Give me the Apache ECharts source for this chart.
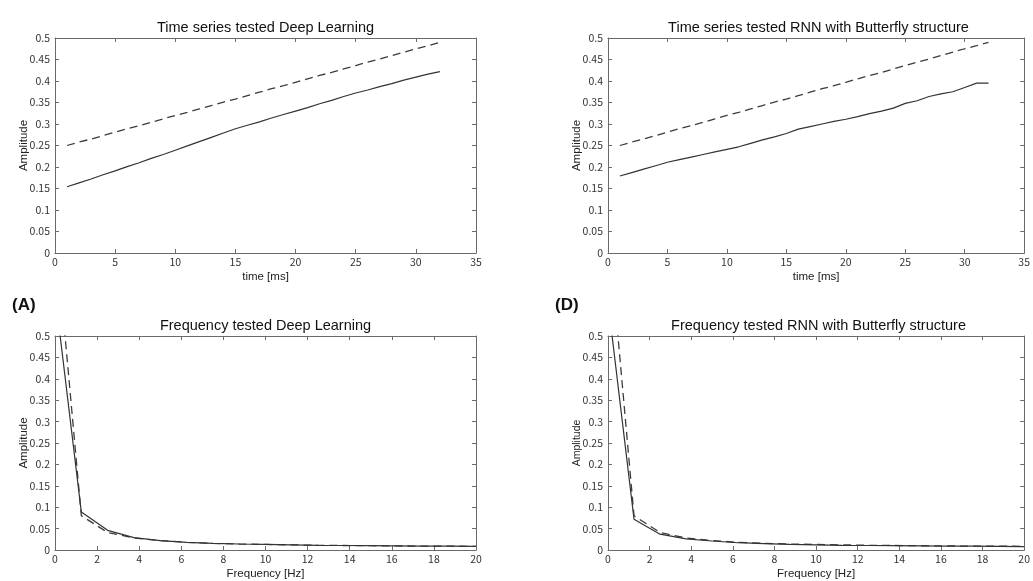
<!DOCTYPE html>
<html>
<head>
<meta charset="utf-8">
<script src="https://cdn.jsdelivr.net/npm/echarts@6/dist/echarts.min.js"></script>
<style>html,body{margin:0;padding:0;background:#fff}#c{width:1033px;height:581px}</style>
</head>
<body>
<div id="c"></div>
<script>
// ---- data ----
const timeMs = [1,2,3,4,5,6,7,8,9,10,11,12,13,14,15,16,17,18,19,20,21,22,23,24,25,26,27,28,29,30,31,32];
const timeTarget = [0.250,0.258,0.265,0.273,0.281,0.289,0.296,0.304,0.312,0.320,0.327,0.335,0.343,0.351,0.358,0.366,0.374,0.382,0.389,0.397,0.405,0.413,0.420,0.428,0.436,0.444,0.451,0.459,0.467,0.475,0.482,0.490];
const timeDeepLearning = [0.154,0.163,0.172,0.182,0.191,0.201,0.210,0.220,0.229,0.239,0.249,0.259,0.269,0.279,0.289,0.297,0.305,0.314,0.322,0.330,0.338,0.347,0.355,0.364,0.372,0.379,0.387,0.394,0.402,0.409,0.416,0.422];
const timeButterfly = [0.179,0.187,0.195,0.203,0.211,0.217,0.223,0.229,0.235,0.241,0.247,0.255,0.263,0.270,0.278,0.288,0.294,0.300,0.306,0.311,0.317,0.324,0.330,0.337,0.348,0.354,0.364,0.370,0.375,0.385,0.395,0.395];
const freqHz = [0,1.25,2.5,3.75,5,6.25,7.5,8.75,10,11.25,12.5,13.75,15,16.25,17.5,18.75,20];
const freqTarget = [0.76,0.080,0.041,0.028,0.022,0.018,0.0155,0.014,0.013,0.012,0.011,0.0105,0.010,0.0095,0.009,0.009,0.0085];
const freqDeepLearning = [0.60,0.089,0.046,0.029,0.022,0.018,0.0155,0.014,0.013,0.012,0.011,0.0105,0.010,0.0095,0.009,0.009,0.0085];
const freqButterfly = [0.58,0.072,0.037,0.026,0.021,0.017,0.015,0.013,0.012,0.011,0.0105,0.010,0.0095,0.009,0.009,0.0085,0.008];
const titles = ['Time series tested Deep Learning','Time series tested RNN with Butterfly structure','Frequency tested Deep Learning','Frequency tested RNN with Butterfly structure'];
const xNames = ['time [ms]','time [ms]','Frequency [Hz]','Frequency [Hz]'];
const panelLabels = ['(A)','(D)'];

// ---- layout ----
const grids = [
  {left:55, top:38, width:421, height:215},
  {left:608, top:38, width:421, height:215},
  {left:55, top:336, width:421, height:215},
  {left:608, top:336, width:421, height:215}
];
const xRanges = [{min:0,max:35,interval:5},{min:0,max:35,interval:5},{min:0,max:20,interval:2},{min:0,max:20,interval:2}];
const FONT = '"Liberation Sans", Arial, sans-serif';
const TICKFONT = '"Noto Sans CJK JP", "Liberation Sans", sans-serif';
const AX = '#6a6a6a';

const xAxis = [], yAxis = [], title = [], series = [];
grids.forEach((g, i) => {
  const r = xRanges[i];
  xAxis.push({
    gridIndex:i, type:'value', position:'bottom', min:r.min, max:r.max, interval:r.interval,
    name:xNames[i], nameLocation:'middle', nameGap:18, nameMoveOverlap:false,
    nameTextStyle:{color:'#222', fontSize:11.5, fontFamily:FONT},
    axisLine:{show:true, onZero:false, lineStyle:{color:AX, width:1}},
    axisTick:{show:true, inside:true, length:4, lineStyle:{color:AX}},
    axisLabel:{color:'#333', fontSize:10.5, fontFamily:TICKFONT, margin:4},
    splitLine:{show:false}
  });
  xAxis.push({
    gridIndex:i, type:'value', position:'top', min:r.min, max:r.max, interval:r.interval,
    axisLine:{show:true, onZero:false, lineStyle:{color:AX, width:1}},
    axisTick:{show:true, inside:true, length:4, lineStyle:{color:AX}},
    axisLabel:{show:false}, splitLine:{show:false}
  });
  yAxis.push({
    gridIndex:i, type:'value', position:'left', min:0, max:0.5, interval:0.05,
    name:'Amplitude', nameLocation:'middle', nameGap: (i % 2 === 0) ? 25 : 25.5, nameRotate:90, nameMoveOverlap:false,
    nameTextStyle:{color:'#222', fontSize: i===3 ? 10.5 : 11.5, fontFamily:FONT},
    axisLine:{show:true, onZero:false, lineStyle:{color:AX, width:1}},
    axisTick:{show:true, inside:true, length:4, lineStyle:{color:AX}},
    axisLabel:{color:'#333', fontSize:10.5, fontFamily:TICKFONT, margin:5,
      formatter: v => String(+v.toFixed(2))},
    splitLine:{show:false}
  });
  yAxis.push({
    gridIndex:i, type:'value', position:'right', min:0, max:0.5, interval:0.05,
    axisLine:{show:true, onZero:false, lineStyle:{color:AX, width:1}},
    axisTick:{show:true, inside:true, length:4, lineStyle:{color:AX}},
    axisLabel:{show:false}, splitLine:{show:false}
  });
  title.push({
    text:titles[i], left:g.left + g.width/2, top:g.top - 18, textAlign:'center', padding:0,
    textStyle:{color:'#111', fontSize:14.5, fontWeight:'normal', fontFamily:FONT}
  });
});

const pairs = (xs, ys) => xs.map((x, k) => [x, ys[k]]);
const lineSeries = (i, xs, ys, dashed) => ({
  type:'line', xAxisIndex:2*i, yAxisIndex:2*i, data:pairs(xs, ys),
  showSymbol:false, symbol:'none', clip:true, animation:false,
  lineStyle:{color: dashed ? '#3c3c3c' : '#333', width: dashed ? 1.3 : 1.2, type: dashed ? [8,5] : 'solid'}
});
series.push(lineSeries(0, timeMs, timeTarget, true));
series.push(lineSeries(0, timeMs, timeDeepLearning, false));
series.push(lineSeries(1, timeMs, timeTarget, true));
series.push(lineSeries(1, timeMs, timeButterfly, false));
series.push(lineSeries(2, freqHz, freqTarget, true));
series.push(lineSeries(2, freqHz, freqDeepLearning, false));
series.push(lineSeries(3, freqHz, freqTarget, true));
series.push(lineSeries(3, freqHz, freqButterfly, false));

title.push({text:panelLabels[0], left:12, top:297, padding:0, textStyle:{color:'#111', fontSize:17, fontWeight:'bold', fontFamily:FONT}});
title.push({text:panelLabels[1], left:555, top:297, padding:0, textStyle:{color:'#111', fontSize:17, fontWeight:'bold', fontFamily:FONT}});

const chart = echarts.init(document.getElementById('c'), null, {renderer:'canvas'});
chart.setOption({
  backgroundColor:'#fff', animation:false,
  title, grid:grids.map(g => Object.assign({containLabel:false}, g)),
  xAxis, yAxis, series
});
</script>
</body>
</html>
